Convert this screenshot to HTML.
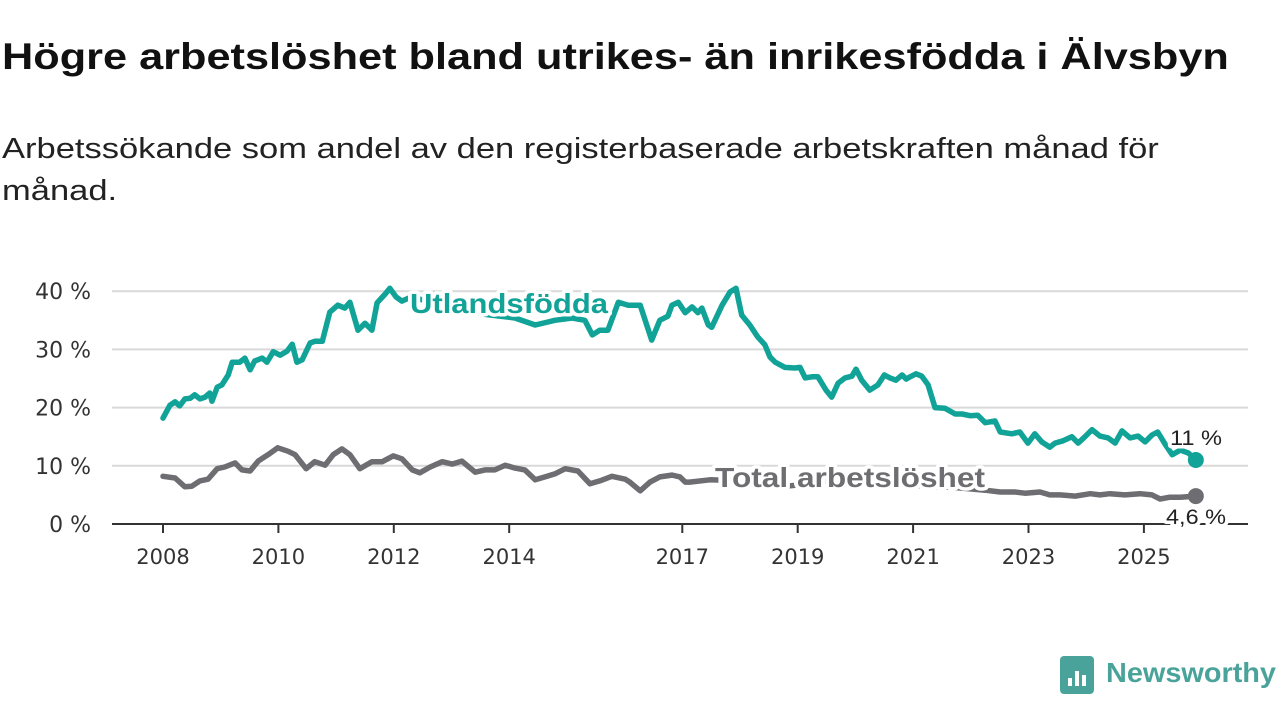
<!DOCTYPE html>
<html><head><meta charset="utf-8">
<style>
body{margin:0;width:1280px;height:720px;background:#fff;overflow:hidden;font-family:"Liberation Sans",sans-serif;}
h1{position:absolute;left:2px;top:36px;margin:0;font-size:37px;font-weight:bold;color:#111;white-space:nowrap;transform:scaleX(1.17);transform-origin:0 0}
.sub{position:absolute;left:2px;top:128px;margin:0;font-size:29px;line-height:42px;color:#222;white-space:nowrap;transform:scaleX(1.19);transform-origin:0 0}
svg{position:absolute;left:0;top:0}
</style></head><body>
<h1>Högre arbetslöshet bland utrikes- än inrikesfödda i Älvsbyn</h1>
<p class="sub">Arbetssökande som andel av den registerbaserade arbetskraften månad för<br>månad.</p>
<svg id="chart" width="1280" height="720"></svg>
<script>
const yTicks=[0,10,20,30,40];
const yTickLabels=["0 %","10 %","20 %","30 %","40 %"];
const xTicks=[2008,2010,2012,2014,2017,2019,2021,2023,2025];
const utDates=[2008.00,2008.12,2008.21,2008.29,2008.38,2008.47,2008.55,2008.64,2008.73,2008.81,2008.85,2008.94,2009.02,2009.13,2009.20,2009.33,2009.42,2009.51,2009.59,2009.72,2009.80,2009.91,2010.03,2010.15,2010.24,2010.32,2010.41,2010.55,2010.63,2010.76,2010.89,2011.03,2011.15,2011.24,2011.38,2011.50,2011.62,2011.71,2011.85,2011.93,2012.04,2012.14,2012.3,2012.5,2012.7,2012.9,2013.1,2013.4,2013.6,2014.10,2014.45,2014.67,2014.79,2015.09,2015.31,2015.44,2015.57,2015.71,2015.89,2016.06,2016.27,2016.47,2016.61,2016.75,2016.82,2016.93,2017.05,2017.17,2017.27,2017.34,2017.45,2017.51,2017.69,2017.83,2017.93,2018.03,2018.17,2018.31,2018.43,2018.52,2018.61,2018.78,2018.95,2019.04,2019.13,2019.25,2019.35,2019.49,2019.59,2019.70,2019.82,2019.94,2020.01,2020.11,2020.25,2020.39,2020.50,2020.60,2020.70,2020.81,2020.88,2020.95,2021.05,2021.15,2021.26,2021.38,2021.55,2021.73,2021.85,2021.99,2022.12,2022.25,2022.42,2022.51,2022.71,2022.85,2022.99,2023.11,2023.23,2023.37,2023.46,2023.60,2023.75,2023.86,2023.98,2024.10,2024.24,2024.38,2024.50,2024.62,2024.76,2024.90,2025.02,2025.14,2025.24,2025.37,2025.49,2025.63,2025.77,2025.90];
const utValues=[18.2,20.4,21.0,20.3,21.5,21.6,22.2,21.5,21.8,22.5,21.1,23.5,23.9,25.6,27.8,27.8,28.5,26.5,28.0,28.5,27.8,29.6,29.0,29.7,30.9,27.8,28.2,31.1,31.4,31.4,36.4,37.6,37.1,38.1,33.3,34.5,33.3,38.0,39.5,40.5,39.0,38.3,39.0,38.5,39.5,38.0,37.5,36.5,36.0,35.4,34.2,34.7,35.0,35.4,35.0,32.5,33.3,33.3,38.1,37.6,37.6,31.6,35.0,35.7,37.6,38.1,36.3,37.3,36.3,37.1,34.2,33.8,37.6,39.9,40.5,35.9,34.2,32.1,30.8,28.7,27.8,26.9,26.8,26.9,25.1,25.3,25.3,23.0,21.8,24.2,25.1,25.4,26.6,24.7,23.0,23.9,25.6,25.1,24.7,25.6,24.9,25.3,25.8,25.4,23.9,20.0,19.9,18.9,18.9,18.6,18.7,17.4,17.7,15.8,15.5,15.8,13.9,15.5,14.1,13.2,13.9,14.3,15.0,13.9,15.0,16.2,15.1,14.8,13.9,16.0,14.8,15.1,14.1,15.3,15.8,13.7,11.9,12.7,12.2,11.0];
const totDates=[2008.00,2008.21,2008.38,2008.50,2008.64,2008.78,2008.94,2009.07,2009.25,2009.37,2009.51,2009.65,2009.82,2009.99,2010.17,2010.29,2010.48,2010.63,2010.81,2010.95,2011.10,2011.24,2011.41,2011.62,2011.80,2011.99,2012.14,2012.32,2012.45,2012.63,2012.84,2013.01,2013.18,2013.41,2013.58,2013.75,2013.93,2014.10,2014.27,2014.45,2014.62,2014.79,2014.97,2015.19,2015.40,2015.57,2015.78,2016.01,2016.09,2016.27,2016.44,2016.61,2016.82,2016.96,2017.05,2017.13,2017.48,2017.8,2018.3,2018.8,2019.3,2019.8,2020.3,2020.8,2021.3,2021.8,2022.25,2022.51,2022.77,2022.94,2023.20,2023.37,2023.55,2023.81,2024.07,2024.24,2024.41,2024.67,2024.93,2025.14,2025.28,2025.45,2025.63,2025.90];
const totValues=[8.2,7.9,6.4,6.5,7.4,7.7,9.5,9.8,10.5,9.3,9.1,10.8,11.9,13.1,12.5,11.9,9.5,10.7,10.1,11.9,12.9,11.9,9.5,10.7,10.7,11.7,11.2,9.3,8.8,9.8,10.7,10.3,10.8,8.9,9.3,9.3,10.1,9.6,9.3,7.6,8.1,8.6,9.5,9.1,6.9,7.4,8.2,7.7,7.2,5.7,7.2,8.1,8.4,8.1,7.2,7.2,7.6,7.5,6.8,6.5,7.0,7.8,7.2,6.8,6.5,6.2,5.8,5.5,5.5,5.3,5.5,5.0,5.0,4.8,5.2,5.0,5.2,5.0,5.2,5.0,4.3,4.6,4.6,4.8];
const NS="http://www.w3.org/2000/svg";
const svg=document.getElementById('chart');
const xS=y=>163+(y-2008)*57.7;
const yS=v=>524-v*5.82;
function mk(tag,attrs,parent){const e=document.createElementNS(NS,tag);for(const k in attrs)e.setAttribute(k,attrs[k]);(parent||svg).appendChild(e);return e;}
yTicks.forEach((t,i)=>{
  if(t>0){const g=mk('line',{x1:112,x2:1248,y1:yS(t),y2:yS(t),stroke:'#d9d9d9','stroke-width':2});
  
  }
  const l=mk('text',{x:91,y:yS(t)+8,'text-anchor':'end','font-size':22,fill:'#333','font-family':'DejaVu Sans'});
  l.textContent=yTickLabels[i];
  
  
});
xTicks.forEach(t=>{
  const tk=mk('line',{x1:xS(t),x2:xS(t),y1:524,y2:533,stroke:'#333','stroke-width':2});
  
  
  const l=mk('text',{x:xS(t),y:564,'text-anchor':'middle','font-size':21,fill:'#333','font-family':'DejaVu Sans'});
  l.textContent=t;
  
  
});
const ax=mk('line',{x1:112,x2:1248,y1:524,y2:524,stroke:'#333','stroke-width':2});


function line(dates,vals,color,name){
  const d=dates.map((t,i)=>(i?'L':'M')+xS(t).toFixed(1)+','+yS(vals[i]).toFixed(1)).join('');
  const p=mk('path',{d:d,fill:'none',stroke:color,'stroke-width':5.5,'stroke-linejoin':'round','stroke-linecap':'round'});
  
  
  const c=mk('circle',{cx:xS(dates[dates.length-1]),cy:yS(vals[vals.length-1]),r:8,fill:color});
  
  
}
line(totDates,totValues,'#6e6d72','total-line');
line(utDates,utValues,'#11a397','utlandsfodda-line');
function lbl(txt,x,y,color,size,bold,name,len){
  const a={x:x,y:y,'font-size':size,'font-weight':bold?'bold':'normal',fill:color,stroke:'#fff','stroke-width':7,'paint-order':'stroke','stroke-linejoin':'round'};
  if(len){a.textLength=len;a.lengthAdjust='spacingAndGlyphs';}
  const t=mk('text',a);
  t.textContent=txt;
  
  
}
lbl('Utlandsfödda',410,313,'#11a397',28,true,'series-label-utlandsfodda',198);
lbl('Total arbetslöshet',715,487,'#6e6d72',28,true,'series-label-total',270);
lbl('11 %',1170,445,'#222',21,false,'end-value-utlandsfodda',52);
lbl('4,6 %',1166,524,'#222',21,false,'end-value-total',60);
const lg=mk('g',{});


mk('rect',{x:1060,y:656,width:34,height:38,rx:4,fill:'#4aa39a'},lg);
[[1068,678,4,8],[1075,671,4,15],[1082,675,4,11]].forEach(r=>mk('rect',{x:r[0],y:r[1],width:r[2],height:r[3],fill:'#fff'},lg));
const lt=mk('text',{x:1106,y:682,'font-size':28,'font-weight':'bold',fill:'#4aa39a',textLength:170,lengthAdjust:'spacingAndGlyphs'},lg);
lt.textContent='Newsworthy';
</script>
</body></html>
